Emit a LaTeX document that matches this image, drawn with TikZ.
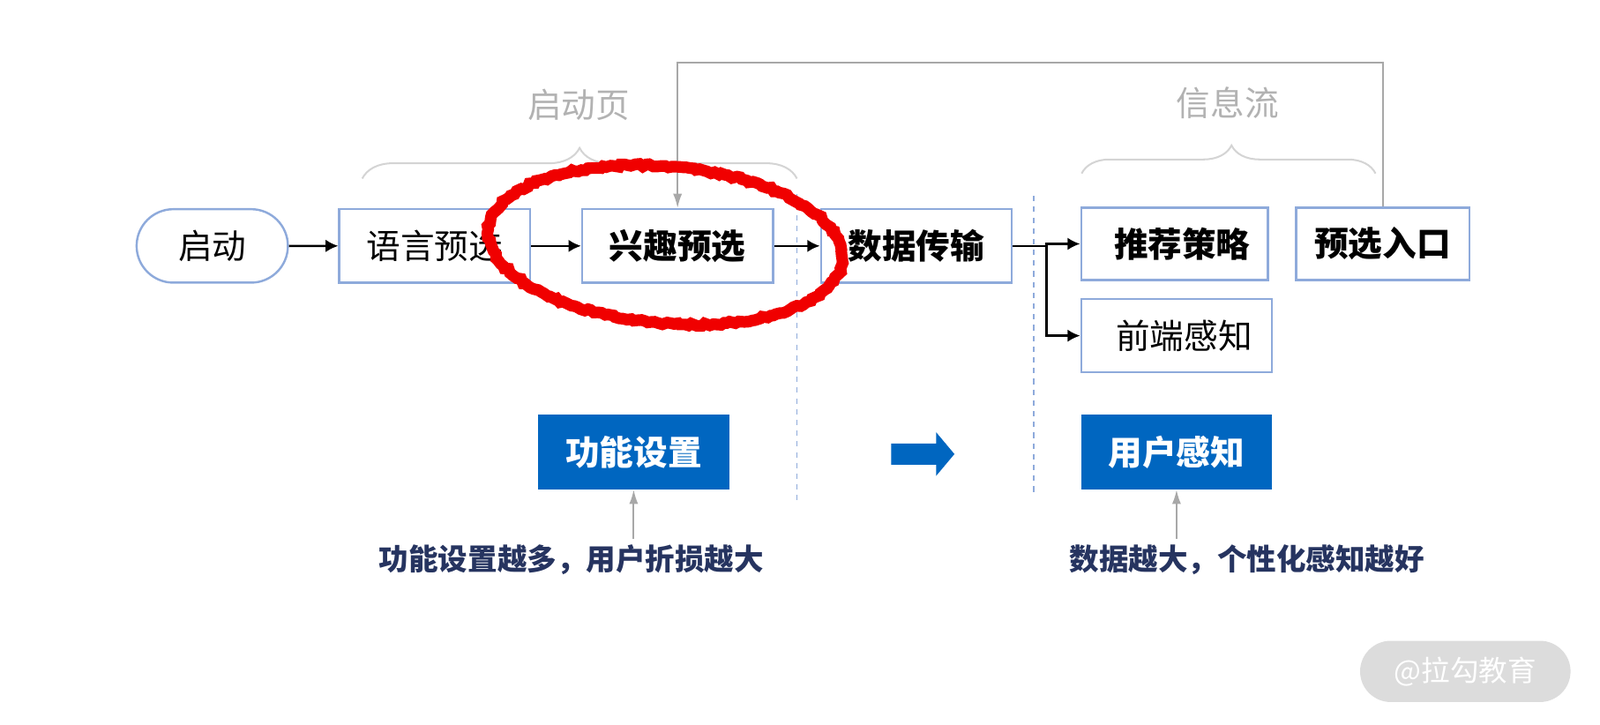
\documentclass[tikz,border=0pt]{standalone}
\usepackage{fontspec}
\setmainfont{Noto Sans CJK SC}
\usepackage{xcolor}
\usetikzlibrary{arrows.meta}
\usetikzlibrary{shapes.misc, shapes.arrows}
\usetikzlibrary{decorations.pathreplacing, decorations.pathmorphing, math}
\definecolor{lblue}{RGB}{142,170,219}
\definecolor{fblue}{RGB}{0,102,192}
\definecolor{navy}{RGB}{38,52,96}
\definecolor{lgray}{RGB}{168,168,168}
\definecolor{bgray}{RGB}{212,212,212}
\definecolor{tgray}{RGB}{178,178,178}
\definecolor{wgray}{RGB}{220,220,220}
\definecolor{rmark}{RGB}{240,0,0}

\tikzset{
  box/.style={draw=lblue, line width=1.2pt, minimum width=3.74cm, minimum height=1.44cm, inner sep=0pt, font=\fontsize{19}{22}\selectfont},
  bbox/.style={box, font=\fontsize{19}{22}\selectfont\bfseries},
  fbox/.style={fill=fblue, text=white, minimum width=3.74cm, minimum height=1.46cm, font=\fontsize{19}{22}\selectfont\bfseries},
  note/.style={text=navy, font=\fontsize{16.5}{20}\selectfont\bfseries},
  label/.style={text=tgray, font=\fontsize{19}{22}\selectfont},
  flow/.style={line width=1.2pt, -{Latex[length=7pt,width=7pt]}},
  glink/.style={lgray, line width=1pt, -{Latex[length=8pt,width=5pt]}},
}

\begin{document}
\begin{tikzpicture}[x=0.02cm, y=-0.02cm]
\useasboundingbox (0,0) rectangle (1568,710);

\node[rounded rectangle, draw=lblue, line width=1.2pt, minimum width=3.2cm, minimum height=1.44cm, font=\fontsize{19}{22}\selectfont] (start) at (208,241) {启动};
\node[box] (lang) at (426,241) {语言预选};
\node[bbox] (interest) at (664,241) {兴趣预选};
\node[bbox] (data) at (898,241) {数据传输};
\node[bbox, minimum width=3.66cm, minimum height=1.42cm] (rec) at (1151,239) {\hspace{0.3cm}推荐策略};
\node[bbox, minimum width=3.4cm, minimum height=1.42cm] (entry) at (1355,239) {预选入口};
\node[box] (front) at (1153,329) {\hspace{0.3cm}前端感知};

\draw[flow] (start) -- (lang);
\draw[flow] (lang) -- (interest);
\draw[flow] (interest) -- (data);
\draw[line width=1.2pt] (data.east) -- ++(33,0) coordinate (split);
\draw[flow] (split) |- (rec.west);
\draw[flow] (split) |- (front.west);

\draw[glink] (entry.north) -- ++(0,-141) -| (interest.north);

% braces and labels
\coordinate (b1a) at (355,175);
\coordinate (b1b) at (781,175);
\coordinate (b2a) at (1060,170);
\coordinate (b2b) at (1348,170);
\draw[bgray, line width=1pt, decorate, decoration={brace, amplitude=0.6cm, aspect=0.5}] (b1a) -- (b1b);
\draw[bgray, line width=1pt, decorate, decoration={brace, amplitude=0.55cm, aspect=0.51}] (b2a) -- (b2b);
\node[label] (startpage) at (567,103) {启动页};
\node[label] (feed) at (1203,101) {信息流};

% dashed separators
\coordinate (d1a) at (781,190);
\coordinate (d1b) at (781,495);
\coordinate (d2a) at (1013,192);
\coordinate (d2b) at (1013,487);
\draw[lblue, dashed, line width=0.9pt] (d1a) -- (d1b);
\draw[lblue, dashed, line width=0.9pt] (d2a) -- (d2b);

% bottom row
\node[fbox] (func) at (621,443) {功能设置};
\node[fbox] (perc) at (1153,443) {用户感知};
\node[single arrow, fill=fblue, inner xsep=0pt, inner ysep=0.2cm, single arrow head extend=0.22cm, single arrow tip angle=100, minimum height=1.24cm] (push) at (900,445) {};
\node[note] (note1) at (560,549) {功能设置越多，用户折损越大};
\node[note] (note2) at (1222,549) {数据越大，个性化感知越好};
\draw[glink] (note1.north -| func.south) -- (func.south);
\draw[glink] (note2.north -| perc.south) -- (perc.south);

% red mark
\draw[rmark, line width=6.5pt, decorate, decoration={random steps, segment length=2pt, amplitude=0.8pt}] (652,240) ellipse [x radius=174, y radius=77, rotate=-5];

\node[rounded rectangle, fill=wgray, minimum width=4.36cm, minimum height=1.2cm, text=white, font=\fontsize{16}{19}\selectfont] (mark) at (1436,658) {@拉勾教育};
\end{tikzpicture}
\end{document}
